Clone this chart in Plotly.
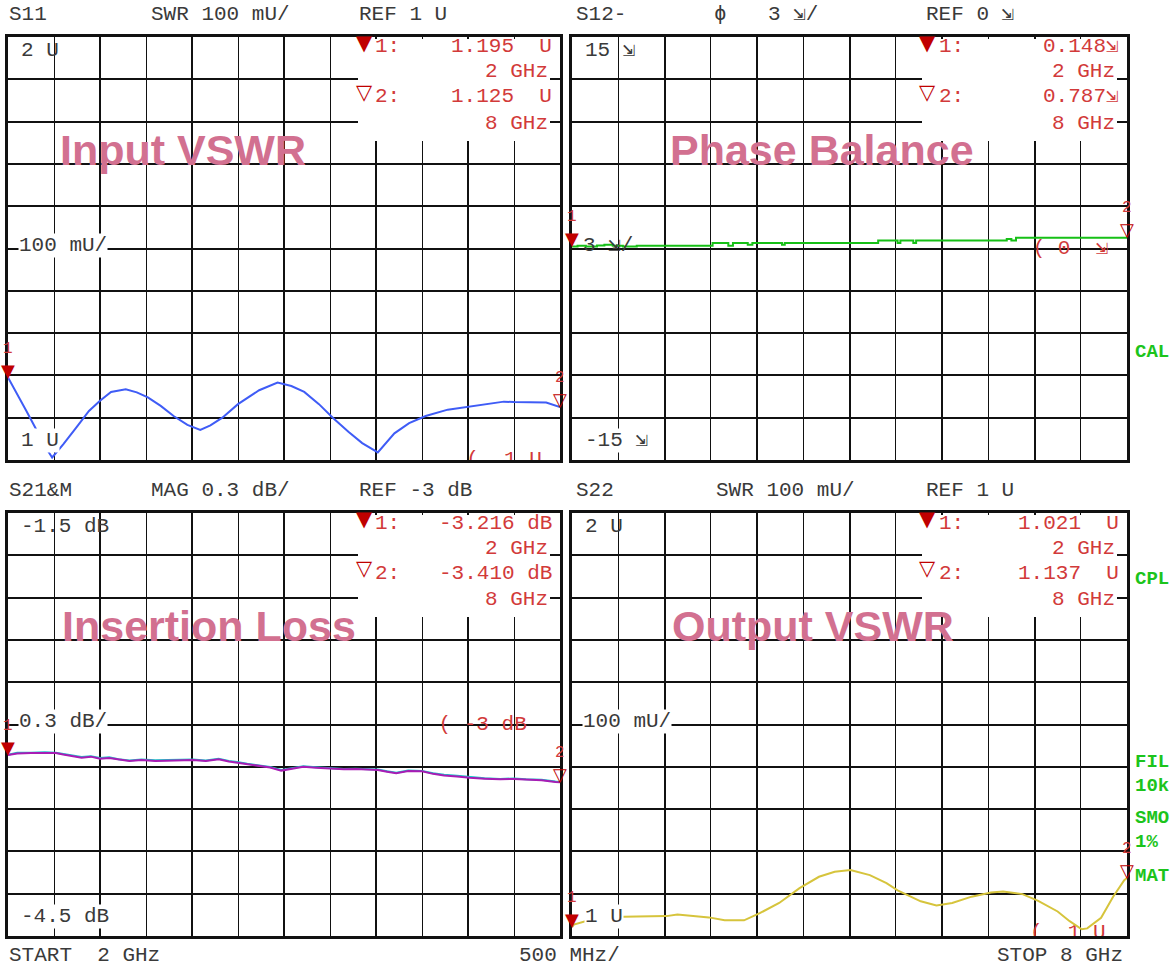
import plotly.graph_objects as go

W, H = 1174, 969

# ---------------- data ----------------
freq_s11 = [2.00, 2.10, 2.20, 2.30, 2.40, 2.48, 2.60, 2.75, 2.88, 3.00, 3.12, 3.28, 3.40,
            3.52, 3.66, 3.80, 3.95, 4.09, 4.20, 4.33, 4.50, 4.73, 4.93, 5.08, 5.22, 5.38,
            5.53, 5.70, 5.85, 6.02, 6.20, 6.36, 6.54, 6.78, 7.02, 7.20, 7.39, 7.50, 7.67,
            7.85, 8.00]
swr_s11 = [1.195, 1.157, 1.116, 1.075, 1.033, 1.006, 1.037, 1.079, 1.116, 1.140, 1.161,
           1.167, 1.160, 1.148, 1.128, 1.104, 1.083, 1.071, 1.082, 1.100, 1.132, 1.165,
           1.183, 1.175, 1.161, 1.132, 1.100, 1.067, 1.040, 1.018, 1.063, 1.087, 1.104,
           1.119, 1.126, 1.132, 1.138, 1.137, 1.137, 1.136, 1.125]

freq_phase = [2.00, 2.06, 2.15, 2.27, 2.35, 2.44, 2.55, 2.70, 2.78, 3.52, 3.69, 3.74, 3.90,
              3.95, 4.27, 4.30, 5.31, 5.52, 5.55, 5.69, 5.72, 6.70, 6.75, 6.80, 8.00]
phase_s12 = [0.148, 0.20, 0.15, 0.22, 0.27, 0.20, 0.15, 0.20, 0.195, 0.384, 0.195, 0.384,
             0.27, 0.384, 0.27, 0.384, 0.573, 0.384, 0.573, 0.384, 0.573, 0.667, 0.573,
             0.763, 0.787]

freq_il = [2.00, 2.10, 2.25, 2.40, 2.52, 2.60, 2.70, 2.80, 2.90, 3.00, 3.10, 3.20, 3.32,
           3.45, 3.60, 3.72, 3.85, 4.01, 4.15, 4.29, 4.40, 4.49, 4.60, 4.73, 4.85, 4.97,
           5.10, 5.21, 5.35, 5.53, 5.65, 5.78, 5.90, 6.02, 6.12, 6.22, 6.35, 6.50, 6.62,
           6.74, 6.88, 7.02, 7.18, 7.35, 7.50, 7.63, 7.80, 7.95, 8.00]
il_s21 = [-3.216, -3.205, -3.203, -3.203, -3.202, -3.213, -3.222, -3.235, -3.228, -3.243,
          -3.238, -3.250, -3.259, -3.252, -3.259, -3.257, -3.254, -3.252, -3.258, -3.247,
          -3.262, -3.270, -3.282, -3.293, -3.305, -3.327, -3.310, -3.300, -3.306, -3.311,
          -3.318, -3.316, -3.322, -3.323, -3.335, -3.346, -3.330, -3.332, -3.350, -3.362,
          -3.368, -3.378, -3.384, -3.389, -3.386, -3.392, -3.395, -3.408, -3.410]
il_s21_mem = [-3.214, -3.200, -3.201, -3.197, -3.201, -3.210, -3.220, -3.231, -3.226, -3.238,
              -3.233, -3.247, -3.255, -3.248, -3.254, -3.251, -3.249, -3.248, -3.255, -3.243,
              -3.258, -3.265, -3.279, -3.291, -3.302, -3.323, -3.307, -3.297, -3.303, -3.308,
              -3.315, -3.313, -3.318, -3.320, -3.332, -3.342, -3.326, -3.329, -3.346, -3.357,
              -3.364, -3.373, -3.381, -3.386, -3.383, -3.388, -3.392, -3.405, -3.408]

freq_s22 = [2.00, 2.02, 2.21, 2.42, 2.70, 3.02, 3.14, 3.30, 3.48, 3.65, 3.86, 4.03, 4.24,
            4.46, 4.67, 4.84, 5.01, 5.22, 5.40, 5.52, 5.77, 5.94, 6.11, 6.32, 6.53, 6.66,
            6.87, 7.04, 7.25, 7.38, 7.51, 7.57, 7.72, 7.85, 7.97, 8.00]
swr_s22 = [1.021, 1.027, 1.039, 1.045, 1.046, 1.047, 1.051, 1.047, 1.044, 1.037, 1.037,
           1.054, 1.078, 1.113, 1.140, 1.152, 1.156, 1.144, 1.125, 1.108, 1.082, 1.072,
           1.078, 1.093, 1.103, 1.105, 1.099, 1.083, 1.058, 1.035, 1.016, 1.018, 1.043,
           1.093, 1.132, 1.137]

DEG = "\u21f2"

# ---------------- styling ----------------
MONO = "Liberation Mono, DejaVu Sans Mono, monospace"
GREY = "#3a3a3a"
RED = "#d23a3a"
DARKRED = "#c00000"
PINK = "#d27090"
GREEN_LBL = "#1cc41c"
FS = 21

panels = [
    dict(n=1, left=8, top=37, right=560, bottom=460, yr=[1, 2], dy=0.1,
         x=freq_s11, y=swr_s11, color="#3f5cf6", shape="linear",
         hdr=[(8, "S11"), (150, "SWR 100 mU/"), (358, "REF 1 U")],
         title="Input VSWR", tx=60,
         lbl_top="2 U", lbl_mid="100 mU/", lbl_bot="1 U",
         m1="1.195  U", m2="1.125  U",
         ref=(6.98, 1.0, "(  1 U")),
    dict(n=2, left=572, top=37, right=1127, bottom=460, yr=[-15, 15], dy=3,
         x=freq_phase, y=phase_s12, color="#16c016", shape="hv",
         hdr=[(575, "S12-"), (713, "\u03d5"), (767, "3 " + DEG + "/"), (925, "REF 0 " + DEG)],
         title="Phase Balance", tx=670,
         lbl_top="15 " + DEG, lbl_mid="3 " + DEG + "/", lbl_bot="-15 " + DEG,
         m1="0.148" + DEG, m2="0.787" + DEG,
         ref=(6.98, 0.0, "( 0  " + DEG)),
    dict(n=3, left=8, top=513, right=560, bottom=936, yr=[-4.5, -1.5], dy=0.3,
         x=freq_il, y=il_s21, color="#a81cb4", shape="linear",
         hdr=[(8, "S21&M"), (150, "MAG 0.3 dB/"), (358, "REF -3 dB")],
         title="Insertion Loss", tx=62,
         lbl_top="-1.5 dB", lbl_mid="0.3 dB/", lbl_bot="-4.5 dB",
         m1="-3.216 dB", m2="-3.410 dB",
         ref=(6.68, -3.0, "( -3 dB")),
    dict(n=4, left=572, top=513, right=1127, bottom=936, yr=[1, 2], dy=0.1,
         x=freq_s22, y=swr_s22, color="#d6c43c", shape="linear",
         hdr=[(575, "S22"), (715, "SWR 100 mU/"), (925, "REF 1 U")],
         title="Output VSWR", tx=672,
         lbl_top="2 U", lbl_mid="100 mU/", lbl_bot="1 U",
         m1="1.021  U", m2="1.137  U",
         ref=(6.95, 1.008, "(  1 U")),
]

fig = go.Figure()


def px(x):
    return x / W


def py(y):
    return 1 - y / H


def txt(x, y, s, color=GREY, size=FS, xanchor="left", bg=None, family=MONO):
    fig.add_annotation(x=px(x), y=py(y), xref="paper", yref="paper", text=s,
                       showarrow=False, xanchor=xanchor, yanchor="middle",
                       font=dict(family=family, size=size, color=color),
                       bgcolor=bg, borderpad=0)


layout_axes = {}
for p in panels:
    n = p["n"]
    sx = "" if n == 1 else str(n)
    xa, ya = "x" + sx, "y" + sx
    layout_axes["xaxis" + sx] = dict(
        domain=[px(p["left"]), px(p["right"])], range=[2, 8], anchor=ya,
        tick0=2, dtick=1, showgrid=True, gridcolor="#111", gridwidth=2.2,
        minor=dict(tick0=2, dtick=0.5, showgrid=True, gridcolor="#111", gridwidth=1.2, ticks=""),
        showticklabels=False, ticks="", zeroline=False,
        showline=True, linewidth=3, linecolor="#111", mirror=True, fixedrange=True)
    layout_axes["yaxis" + sx] = dict(
        domain=[py(p["bottom"]), py(p["top"])], range=p["yr"], anchor=xa,
        tick0=p["yr"][0], dtick=p["dy"], showgrid=True, gridcolor="#111", gridwidth=1.8,
        showticklabels=False, ticks="", zeroline=False,
        showline=True, linewidth=3, linecolor="#111", mirror=True, fixedrange=True)

    # reference level marker text (clipped by the plot area)
    rx, ry, rs = p["ref"]
    fig.add_trace(go.Scatter(x=[rx], y=[ry], mode="text", text=[rs],
                             textposition="middle right",
                             textfont=dict(family=MONO, size=FS, color=RED),
                             xaxis=xa, yaxis=ya, cliponaxis=True,
                             hoverinfo="skip", showlegend=False))

    if n == 3:
        fig.add_trace(go.Scatter(x=freq_il, y=il_s21_mem, mode="lines",
                                 line=dict(color="#1cc4c8", width=2),
                                 xaxis=xa, yaxis=ya, hoverinfo="skip", showlegend=False))
    fig.add_trace(go.Scatter(x=p["x"], y=p["y"], mode="lines",
                             line=dict(color=p["color"], width=2, shape=p["shape"]),
                             xaxis=xa, yaxis=ya, hoverinfo="skip", showlegend=False))

    # trace markers
    for (fx, fy, sym, num) in [(p["x"][0], p["y"][0], "\u25bc", "1"),
                               (p["x"][-1], p["y"][-1], "\u25bd", "2")]:
        fig.add_annotation(x=fx, y=fy, xref=xa, yref=ya, text=sym, showarrow=False,
                           xanchor="center", yanchor="bottom", yshift=-5,
                           font=dict(family="DejaVu Sans", size=18, color=DARKRED))
        fig.add_annotation(x=fx, y=fy, xref=xa, yref=ya, text=num, showarrow=False,
                           xanchor="center", yanchor="bottom", yshift=18,
                           font=dict(family=MONO, size=16, color=RED))

    # marker readout box
    L, T, R, B = p["left"], p["top"], p["right"], p["bottom"]
    fig.add_shape(type="rect", xref="paper", yref="paper",
                  x0=px(L + 350), x1=px(R - 10), y0=py(T + 104), y1=py(T + 2),
                  fillcolor="white", line=dict(width=0), layer="above")
    txt(L + 356, T + 6, "\u25bc", color=DARKRED, size=21, xanchor="center", family="DejaVu Sans")
    txt(L + 356, T + 55, "\u25bd", color=DARKRED, size=21, xanchor="center", family="DejaVu Sans")
    txt(L + 366, T + 10, "1:", color=RED)
    txt(L + 366, T + 60, "2:", color=RED)
    txt(R - 7, T + 10, p["m1"], color=RED, xanchor="right")
    txt(R - 11, T + 35, "2 GHz", color=RED, xanchor="right")
    txt(R - 7, T + 60, p["m2"], color=RED, xanchor="right")
    txt(R - 11, T + 86, "8 GHz", color=RED, xanchor="right")

    # scale labels
    mid = (T + B) / 2
    txt(L + 12, T + 13, p["lbl_top"])
    txt(L + 10, mid - 3, p["lbl_mid"], bg=None if n == 2 else "white")
    txt(L + 12, B - 20, p["lbl_bot"], bg="white")

    # big title
    txt(p["tx"] - 1, T + 113, "<b>" + p["title"] + "</b>", color=PINK, size=43,
        family="Liberation Sans, Arial, sans-serif")

    # header
    for hx, hs in p["hdr"]:
        txt(hx, T - 23, hs)

# footer
txt(8, 955, "START  2 GHz")
txt(518, 955, "500 MHz/")
txt(1124, 955, "STOP 8 GHz", xanchor="right")

# right side status labels
for yy, s in [(352, "CAL"), (579, "CPL"), (762, "FIL"), (786, "10k"),
              (818, "SMO"), (842, "1%"), (876, "MAT")]:
    txt(1134, yy, "<b>" + s + "</b>", color=GREEN_LBL, size=19)

fig.update_layout(width=W, height=H, margin=dict(l=0, r=0, t=0, b=0),
                  paper_bgcolor="white", plot_bgcolor="white", showlegend=False,
                  **layout_axes)

fig.write_html("out.html", config={"displayModeBar": False},
               post_script="document.body.style.margin='0';document.body.style.overflow='hidden';")
